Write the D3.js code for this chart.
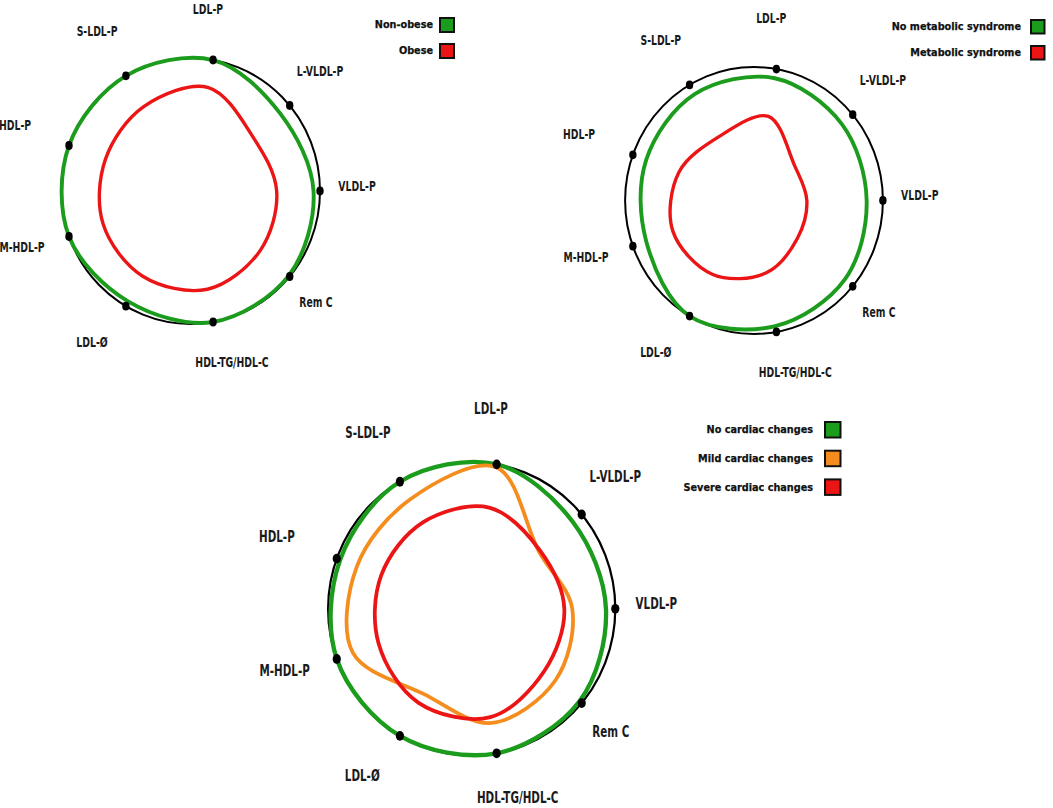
<!DOCTYPE html>
<html>
<head>
<meta charset="utf-8">
<title>Lipoprotein profile radar charts</title>
<script src="https://d3js.org/d3.v7.min.js"></script>
<style>
body { margin: 0; background: #fff; }
.axis-label {
    font-family: "DejaVu Sans Condensed", "DejaVu Sans", sans-serif;
    font-weight: bold;
    fill: #1a1a1a;
}
.legend-label {
    font-family: "DejaVu Sans", Verdana, sans-serif;
    font-weight: bold;
    fill: #111;
}
</style>
</head>
<body>
<script>
// axes, clockwise starting near the top
var axes = ["LDL-P", "L-VLDL-P", "VLDL-P", "Rem C", "HDL-TG/HDL-C", "LDL-\u00d8", "M-HDL-P", "HDL-P", "S-LDL-P"];

// relative values (outer circle = 1)
var nonObese      = [1.00, 0.905, 0.95, 0.99, 1.00, 0.96, 1.00, 1.00, 1.00];
var obese         = [0.79, 0.63, 0.665, 0.70, 0.75, 0.74, 0.72, 0.70, 0.73];
var noMetS        = [0.93, 0.89, 0.874, 0.92, 0.955, 1.00, 0.89, 0.89, 0.92];
var metS          = [0.64, 0.41, 0.41, 0.44, 0.55, 0.64, 0.67, 0.62, 0.55];
var noCardiac     = [1.00, 0.92, 0.935, 0.98, 1.00, 1.00, 1.00, 0.975, 1.00];
var mildCardiac   = [0.98, 0.61, 0.70, 0.76, 0.79, 0.67, 0.88, 0.85, 0.86];
var severeCardiac = [0.70, 0.62, 0.645, 0.66, 0.75, 0.74, 0.69, 0.67, 0.68];

var groups1 = ["Non-obese", "Obese"];
var groups2 = ["No metabolic syndrome", "Metabolic syndrome"];
var groups3 = ["No cardiac changes", "Mild cardiac changes", "Severe cardiac changes"];

var green = "#1c9c1c", orange = "#f58c1e", red = "#ec1515";

var width = 1053, height = 808;

// layout of the three panels
var panels = [
    { cx: 190.6, cy: 191, rx: 129.4, ry: 133, names: groups1, series: [nonObese, obese], colors: [green, red],
      legend: { x: 439, y: 17, size: 16, step: 26, gap: 6 } },
    { cx: 754, cy: 200.5, rx: 128.9, ry: 133.5, names: groups2, series: [noMetS, metS], colors: [green, red],
      legend: { x: 1030, y: 19, size: 15.5, step: 26, gap: 9 } },
    { cx: 471.7, cy: 608.8, rx: 143.6, ry: 146.7, names: groups3, series: [noCardiac, mildCardiac, severeCardiac], colors: [green, orange, red],
      legend: { x: 824, y: 421, size: 17.5, step: 28.7, gap: 11 } }
];

// small label nudges (in radius units) away from the plain polar spot
var labelNudge = [[-0.097, -0.058], [-0.019, -0.047], [-0.044, -0.038], [-0.05, -0.02], [0.089, -0.024],
                  [-0.097, -0.017], [-0.053, -0.034], [-0.107, -0.041], [-0.058, -0.051]];

var svg = d3.select("body")
    .append("svg")
    .attr("width", width)
    .attr("height", height);

var angle = d3.scaleLinear()
    .domain([0, axes.length])
    .range([10 * Math.PI / 180, 370 * Math.PI / 180]);

panels.forEach(function(p) {
    var k = p.rx / 129.4;
    var r = d3.scaleLinear().domain([0, 1]).range([0, p.rx]);
    var sy = p.ry / p.rx;
    var g = svg.append("g").attr("transform", "translate(" + p.cx + "," + p.cy + ")");

    function px(v, i) { return r(v) * Math.sin(angle(i)); }
    function py(v, i) { return -r(v) * sy * Math.cos(angle(i)); }

    // outer circle
    g.append("ellipse")
        .attr("rx", r(1)).attr("ry", r(1) * sy)
        .attr("fill", "none")
        .attr("stroke", "#000")
        .attr("stroke-width", 2 * k);

    var line = d3.line()
        .x(function(d, i) { return px(d, i); })
        .y(function(d, i) { return py(d, i); })
        .curve(d3.curveCatmullRomClosed.alpha(0.5));

    g.selectAll("path.series")
        .data(p.series)
        .enter()
        .append("path")
        .attr("class", "series")
        .attr("d", line)
        .attr("fill", "none")
        .attr("stroke", function(d, i) { return p.colors[i]; })
        .attr("stroke-width", function(d, i) { return (i == 0 ? 3.9 : 3.4) * k; })
        .attr("stroke-linejoin", "round");

    // axis dots on the outer circle
    g.selectAll("ellipse.dot")
        .data(axes)
        .enter()
        .append("ellipse")
        .attr("class", "dot")
        .attr("cx", function(d, i) { return px(1, i); })
        .attr("cy", function(d, i) { return py(1, i); })
        .attr("rx", 3.7 * k)
        .attr("ry", 4.4 * k)
        .attr("fill", "#000");

    // condensed labels: squeeze the font horizontally
    g.selectAll("text.axis-label")
        .data(axes)
        .enter()
        .append("text")
        .attr("class", "axis-label")
        .attr("transform", function(d, i) {
            var x = px(1.33, i) + labelNudge[i][0] * p.rx;
            var y = py(1.33, i) + labelNudge[i][1] * p.ry;
            return "translate(" + x + "," + y + ") scale(0.74,1)";
        })
        .attr("dy", "0.36em")
        .attr("text-anchor", "middle")
        .style("font-size", (14 * k) + "px")
        .text(function(d) { return d; });

    // legend
    var lg = svg.append("g");
    var L = p.legend;
    lg.selectAll("rect")
        .data(p.names)
        .enter()
        .append("rect")
        .attr("x", L.x + 1)
        .attr("y", function(d, i) { return L.y + 1 + i * L.step; })
        .attr("width", L.size - 2)
        .attr("height", L.size - 2)
        .attr("fill", function(d, i) { return p.colors[i]; })
        .attr("stroke", "#111")
        .attr("stroke-width", 2);
    lg.selectAll("text")
        .data(p.names)
        .enter()
        .append("text")
        .attr("class", "legend-label")
        .attr("x", L.x - L.gap)
        .attr("y", function(d, i) { return L.y + L.size / 2 + i * L.step; })
        .attr("dy", "0.36em")
        .attr("text-anchor", "end")
        .attr("stroke", "#111")
        .attr("stroke-width", 0.25)
        .style("font-size", "9.7px")
        .text(function(d) { return d; });
});
</script>
</body>
</html>
